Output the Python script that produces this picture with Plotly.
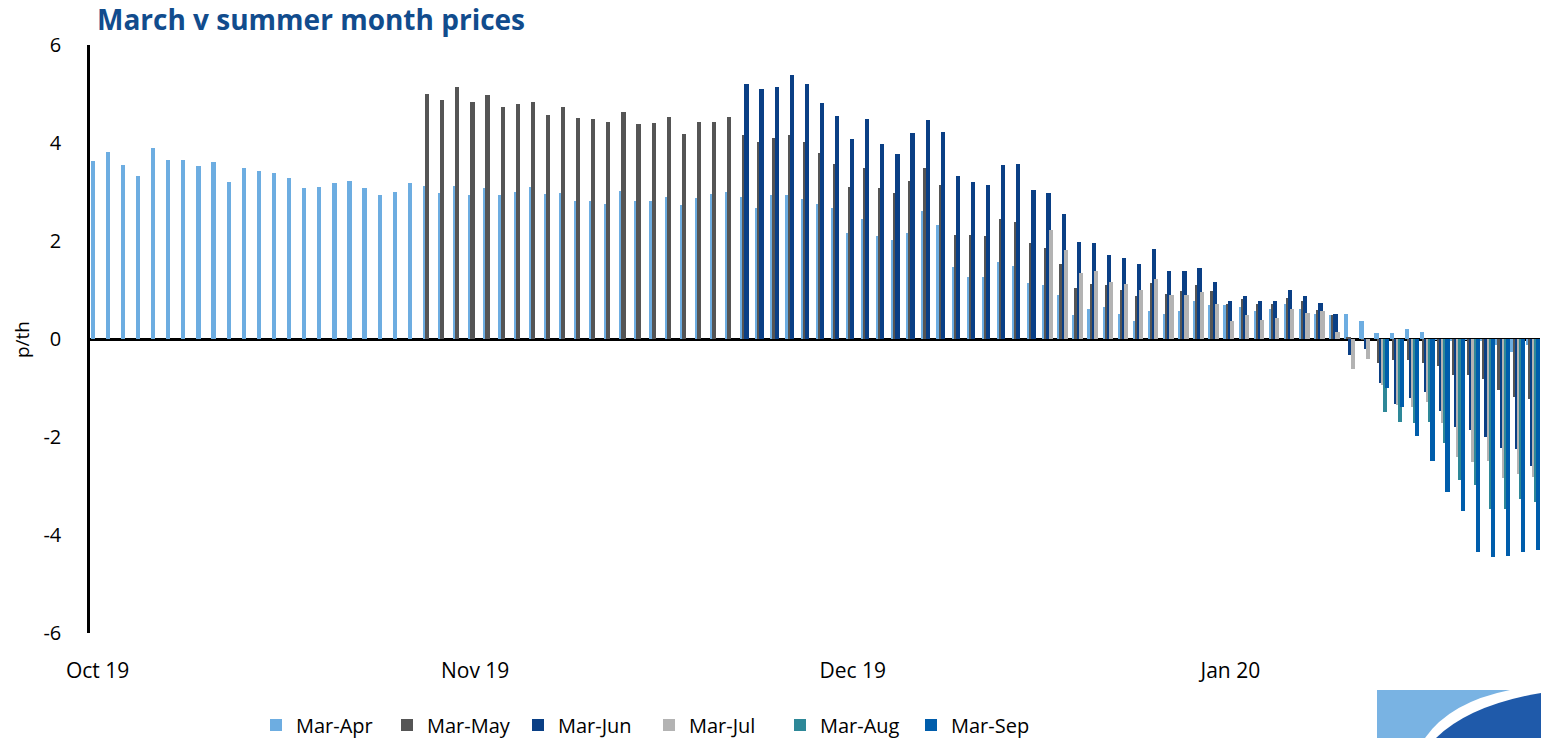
import plotly.graph_objects as go

# ---------------- data ----------------
tick_labels = ["Oct 19", "Nov 19", "Dec 19", "Jan 20"]
label_every = 25          # one date label every 25 trading days
n_days = 96
y_ticks = [-6, -4, -2, 0, 2, 4, 6]

series_names = ["Mar-Apr", "Mar-May", "Mar-Jun", "Mar-Jul", "Mar-Aug", "Mar-Sep"]
series_colors = ["#6DADE1", "#555555", "#0A3F85", "#B3B3B3", "#2E8898", "#005DAB"]

mar_apr = [3.63, 3.81, 3.56, 3.33, 3.90, 3.65, 3.65, 3.53, 3.61, 3.20,
           3.50, 3.43, 3.39, 3.28, 3.08, 3.10, 3.18, 3.23, 3.08, 2.93,
           3.01, 3.18, 3.12, 2.97, 3.12, 2.93, 3.08, 2.93, 3.00, 3.10,
           2.95, 2.97, 2.82, 2.82, 2.76, 3.03, 2.82, 2.82, 2.90, 2.73,
           2.88, 2.95, 3.00, 2.90, 2.67, 2.93, 2.93, 2.85, 2.76, 2.67,
           2.17, 2.45, 2.10, 2.02, 2.17, 2.62, 2.32, 1.47, 1.27, 1.27,
           1.57, 1.50, 1.14, 1.10, 0.89, 0.49, 0.61, 0.65, 0.52, 0.37,
           0.57, 0.52, 0.57, 0.77, 0.69, 0.69, 0.65, 0.57, 0.61, 0.72,
           0.61, 0.52, 0.49, 0.52, 0.37, 0.12, 0.12, 0.20, 0.14, -0.02,
           -0.03, -0.02, -0.04, -0.12, -0.26, -0.12]

mar_may = [None] * 22 + [
           5.01, 4.88, 5.14, 4.83, 4.98, 4.73, 4.79, 4.83,
           4.58, 4.73, 4.52, 4.48, 4.43, 4.63, 4.38, 4.41, 4.53, 4.18,
           4.43, 4.43, 4.53, 4.16, 4.03, 4.10, 4.16, 4.03, 3.80, 3.57,
           3.10, 3.48, 3.08, 2.97, 3.23, 3.50, 3.15, 2.12, 2.12, 2.10,
           2.45, 2.39, 1.95, 1.85, 1.54, 1.05, 1.12, 1.10, 1.00, 0.88,
           1.14, 0.92, 0.97, 1.10, 0.97, 0.72, 0.82, 0.72, 0.72, 0.84,
           0.77, 0.59, 0.49, 0.03, -0.02, -0.48, -0.43, -0.43, -0.48, -0.55,
           -0.73, -0.73, -0.82, -1.04, -1.18, -1.23]

mar_jun = [None] * 43 + [
           5.20, 5.11, 5.14, 5.39, 5.21, 4.81, 4.55,
           4.08, 4.48, 3.98, 3.78, 4.20, 4.46, 4.22, 3.33, 3.20, 3.15,
           3.56, 3.57, 3.05, 2.97, 2.55, 1.97, 1.95, 1.72, 1.65, 1.54,
           1.83, 1.39, 1.39, 1.45, 1.17, 0.77, 0.87, 0.77, 0.77, 1.00,
           0.87, 0.74, 0.52, -0.33, -0.20, -0.90, -1.33, -1.21, -1.09, -1.46,
           -1.79, -1.86, -1.99, -2.22, -2.24, -2.59]

mar_jul = [None] * 63 + [
           2.22, 1.82, 1.35, 1.39, 1.17, 1.12, 1.00,
           1.22, 0.89, 0.89, 0.95, 0.72, 0.37, 0.49, 0.39, 0.43, 0.61,
           0.54, 0.57, 0.14, -0.61, -0.41, -0.93, -1.35, -1.38, -1.29, -1.71,
           -2.40, -2.51, -2.49, -2.84, -2.76, -2.81]

mar_aug = [None] * 85 + [
           -1.48, -1.69, -1.72, -1.69, -2.12,
           -2.88, -2.97, -3.47, -3.47, -3.27, -3.32]

mar_sep = [None] * 85 + [
           -1.01, -1.38, -1.98, -2.49, -3.12,
           -3.50, -4.34, -4.44, -4.42, -4.34, -4.31]

all_series = [mar_apr, mar_may, mar_jun, mar_jul, mar_aug, mar_sep]

# ---------------- figure ----------------
W, H = 1541, 738
M_L, M_R, M_T, M_B = 90, 1, 45, 105
PW, PH = W - M_L - M_R, H - M_T - M_B

def px_x(px):
    return (px - M_L) / PW

def px_y(py):
    return (H - M_B - py) / PH

FONT = "Open Sans"
days = list(range(n_days))

bar_w = 0.28
bar_step = 0.14
bar_start = -0.46

fig = go.Figure()
for k, (name, color, vals) in enumerate(zip(series_names, series_colors, all_series)):
    fig.add_trace(go.Bar(
        x=days, y=vals, name=name,
        marker=dict(color=color, line=dict(width=0)),
        width=bar_w, offset=bar_start + k * bar_step,
        hovertemplate=name + ": %{y:.2f}<extra></extra>",
    ))

# company logo block (bottom right)
logo_shapes = [
    dict(type="rect", xref="paper", yref="paper",
         x0=px_x(1377), x1=px_x(1541), y0=px_y(738), y1=px_y(690),
         fillcolor="#79B3E3", line=dict(width=0), layer="above"),
    dict(type="path", xref="paper", yref="paper",
         path=(f"M {px_x(1425)},{px_y(738)} Q {px_x(1450)},{px_y(702)} {px_x(1510)},{px_y(690)} "
               f"L {px_x(1541)},{px_y(690)} L {px_x(1541)},{px_y(738)} Z"),
         fillcolor="white", line=dict(width=0), layer="above"),
    dict(type="path", xref="paper", yref="paper",
         path=(f"M {px_x(1436)},{px_y(738)} Q {px_x(1470)},{px_y(705)} {px_x(1541)},{px_y(693)} "
               f"L {px_x(1541)},{px_y(738)} Z"),
         fillcolor="#1F5AAA", line=dict(width=0), layer="above"),
]

fig.update_layout(
    width=W, height=H,
    margin=dict(l=M_L, r=M_R, t=M_T, b=M_B, pad=0, autoexpand=False),
    paper_bgcolor="white", plot_bgcolor="white",
    barmode="overlay",
    bargap=0,
    font=dict(family=FONT, color="black", size=20),
    title=dict(text="<b>March v summer month prices</b>",
               xref="container", yref="container",
               x=97 / W, xanchor="left", y=1 - 20 / H, yanchor="middle",
               font=dict(family=FONT, size=28, color="#114C8D")),
    xaxis=dict(range=[-0.5, n_days - 0.5],
               tickmode="array",
               tickvals=days[::label_every],
               ticktext=tick_labels,
               showline=False, showgrid=False, zeroline=False,
               ticks="outside", ticklen=19, tickcolor="rgba(0,0,0,0)",
               tickfont=dict(size=21)),
    yaxis=dict(range=[-6, 6],
               tickmode="array", tickvals=y_ticks,
               ticktext=[str(v) for v in y_ticks],
               showline=True, linecolor="black", linewidth=2.5,
               showgrid=False,
               zeroline=True, zerolinecolor="black", zerolinewidth=2.5,
               ticks="", ticklabelstandoff=22,
               tickfont=dict(size=20)),
    legend=dict(orientation="h", x=px_x(256), xanchor="left",
                yref="container", y=1 - 725 / H, yanchor="middle",
                font=dict(size=20), traceorder="normal",
                entrywidth=86, entrywidthmode="pixels"),
    shapes=logo_shapes,
    annotations=[dict(text="p/th", xref="paper", yref="paper",
                      x=px_x(22), y=px_y(340), xanchor="center", yanchor="middle",
                      textangle=-90, showarrow=False, font=dict(size=19))],
)

fig.write_html("out.html", config={"displayModeBar": False},
               post_script="document.body.style.margin='0px';")
